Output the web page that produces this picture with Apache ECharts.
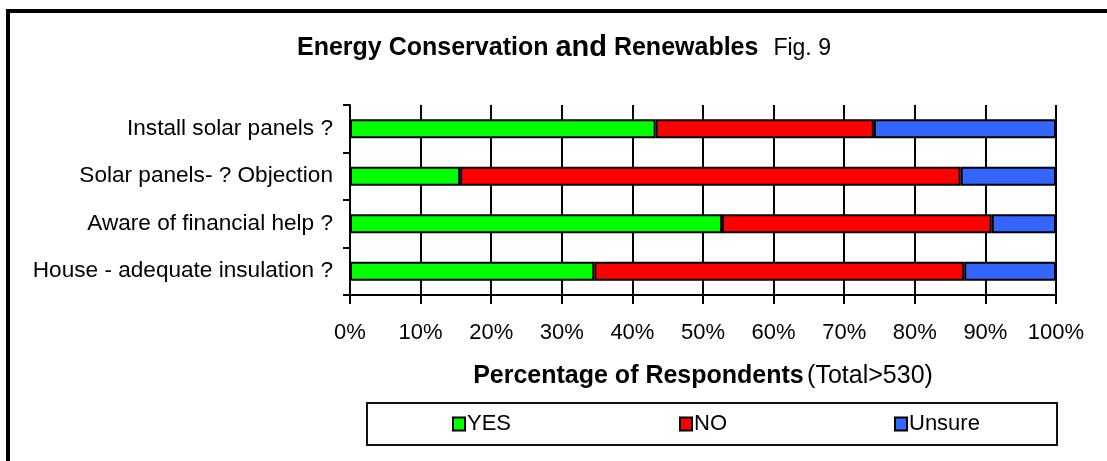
<!DOCTYPE html>
<html>
<head>
<meta charset="utf-8">
<script src="https://cdn.jsdelivr.net/npm/echarts@6/dist/echarts.min.js"></script>
<style>
  html, body { margin: 0; padding: 0; background: #fff; }
  #chart { width: 1107px; height: 461px; }
</style>
</head>
<body>
<div id="chart"></div>
<script>
// questions, top to bottom
const questions = [
  'Install solar panels ?',
  'Solar panels- ? Objection',
  'Aware of financial help ?',
  'House - adequate insulation ?'
];
// percent of respondents
const yesValues = [43.3, 15.6, 52.7, 34.6];
const noValues = [30.9, 70.9, 38.2, 52.4];
const unsureValues = [25.8, 13.5, 9.1, 13.0];
const seriesNames = ['YES', 'NO', 'Unsure'];
const seriesColors = ['#00ff00', '#ff0000', '#3366ff'];

const chart = echarts.init(document.getElementById('chart'));
const font = 'Liberation Sans, Arial, sans-serif';

function barSeries(name, data, color) {
  return {
    name: name,
    type: 'bar',
    stack: 'total',
    barWidth: '40%',
    data: data,
    itemStyle: {
      color: color,
      borderColor: '#000',
      borderWidth: 2
    },
    emphasis: { disabled: true }
  };
}

function legendItem(name, left) {
  return {
    data: [name],
    left: left,
    top: 413,
    icon: 'rect',
    itemWidth: 12,
    itemHeight: 13,
    itemGap: 0,
    padding: 0,
    itemStyle: { borderColor: '#000', borderWidth: 2 },
    textStyle: { fontFamily: font, fontSize: 22, color: '#000', padding: [0, 0, 0, -3] },
    selectedMode: false
  };
}

const option = {
  backgroundColor: '#fff',
  animation: false,
  title: {
    text: '{b|Energy Conservation }{a|and}{b| Renewables}   {n|Fig. 9}',
    left: 297,
    top: 33,
    padding: 0,
    textStyle: {
      rich: {
        b: { fontFamily: font, fontSize: 25, fontWeight: 'bold', color: '#000' },
        a: { fontFamily: font, fontSize: 29, fontWeight: 'bold', color: '#000', padding: [0, 0, 2, 0] },
        n: { fontFamily: font, fontSize: 23, fontWeight: 'normal', color: '#000' }
      }
    }
  },
  legend: [
    legendItem('YES', 452),
    legendItem('NO', 679),
    legendItem('Unsure', 894)
  ],
  grid: {
    left: 350,
    right: 51,
    top: 105,
    height: 190
  },
  xAxis: {
    type: 'value',
    min: 0,
    max: 100,
    interval: 10,
    axisLine: { show: true, lineStyle: { color: '#000', width: 2 } },
    axisTick: { show: true, length: 9, lineStyle: { color: '#000', width: 2 } },
    axisLabel: {
      formatter: '{value}%',
      fontFamily: font,
      fontSize: 22,
      color: '#000',
      margin: 27
    },
    splitLine: { show: true, lineStyle: { color: '#000', width: 2 } },
    name: '{b|Percentage of Respondents} {n|(Total>530)}',
    nameLocation: 'middle',
    nameGap: 69,
    nameTextStyle: {
      rich: {
        b: { fontFamily: font, fontSize: 25, fontWeight: 'bold', color: '#000' },
        n: { fontFamily: font, fontSize: 25, color: '#000' }
      }
    }
  },
  yAxis: {
    type: 'category',
    inverse: true,
    data: questions,
    axisLine: { show: true, lineStyle: { color: '#000', width: 2 } },
    axisTick: { show: true, length: 7, lineStyle: { color: '#000', width: 2 } },
    axisLabel: {
      fontFamily: font,
      fontSize: 22.6,
      color: '#000',
      margin: 17
    },
    splitLine: { show: false }
  },
  series: [
    barSeries(seriesNames[0], yesValues, seriesColors[0]),
    barSeries(seriesNames[1], noValues, seriesColors[1]),
    barSeries(seriesNames[2], unsureValues, seriesColors[2])
  ],
  graphic: [
    // outer frame, cut off at right and bottom like the original
    {
      type: 'rect',
      shape: { x: 8, y: 11, width: 1200, height: 600 },
      style: { fill: null, stroke: '#000', lineWidth: 4 },
      silent: true
    },
    // legend box
    {
      type: 'rect',
      shape: { x: 367, y: 403, width: 690, height: 42 },
      style: { fill: null, stroke: '#111', lineWidth: 2 },
      silent: true
    }
  ]
};

chart.setOption(option);
</script>
</body>
</html>
